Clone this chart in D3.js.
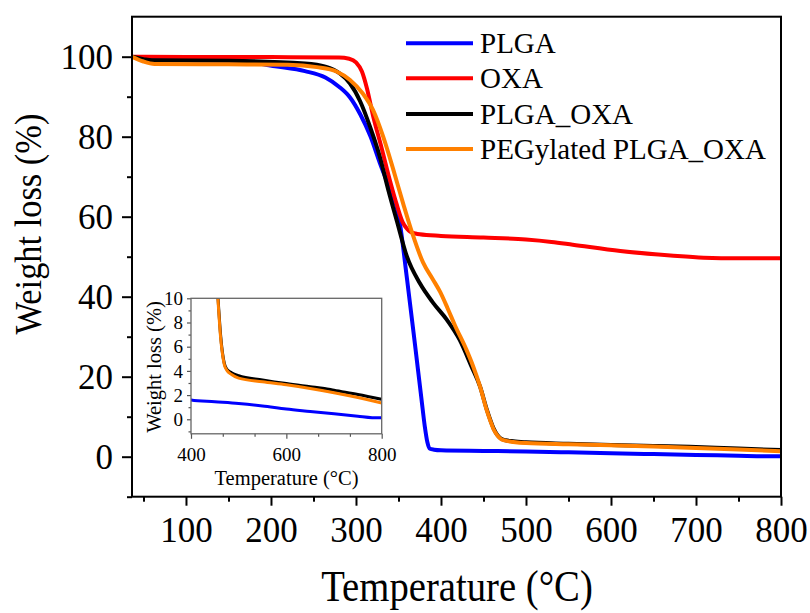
<!DOCTYPE html>
<html>
<head>
<meta charset="utf-8">
<script src="https://cdn.jsdelivr.net/npm/d3@7"></script>
<style>
  html, body { margin: 0; padding: 0; background: #fff; }
  svg { display: block; }
  text { font-family: "Liberation Serif", "Times New Roman", serif; fill: #000; }
</style>
</head>
<body>
<svg id="chart" width="810" height="613"></svg>
<script>
// TGA curves: temperature (°C) vs residual weight (%)
const seriesNames = ["PLGA", "OXA", "PLGA_OXA", "PEGylated PLGA_OXA"];
const seriesColors = ["#0000ff", "#ff0000", "#000000", "#ff8000"];

const tempPLGA = [36.5, 60, 100, 160, 205, 240, 264, 280, 293, 305, 317, 328, 340, 350, 360, 370, 377, 381, 384, 387, 392, 400, 450, 500, 550, 600, 650, 700, 750, 780, 800];
const wPLGA    = [100, 99.4, 99.2, 99.0, 97.6, 96.4, 94.8, 92.5, 89.8, 85.6, 80.1, 73.5, 66.7, 60.5, 44.5, 27, 14.5, 7.5, 3.6, 2.0, 1.75, 1.6, 1.45, 1.3, 1.1, 0.85, 0.65, 0.45, 0.25, 0.13, 0.12];

const tempOXA = [36.5, 100, 200, 280, 292, 300, 307, 313, 320, 330, 340, 348, 355, 360, 364, 370, 375, 400, 450, 500, 530, 555, 611, 670, 709, 750, 800];
const wOXA    = [100, 99.9, 99.9, 99.8, 99.5, 98.6, 96.3, 92, 85.3, 77.3, 69, 63, 58.6, 57, 56.2, 55.8, 55.6, 55.2, 54.8, 54.3, 53.7, 53.0, 51.4, 50.3, 49.75, 49.6, 49.6];

const tempPLGAOXA = [36.5, 50, 60, 150, 240, 264, 281, 293, 305, 316.5, 328, 338, 348, 360, 375, 391, 407, 422, 436, 446, 454, 458, 462, 466, 470, 476, 485, 500, 550, 600, 650, 680, 700, 750, 800];
const wPLGAOXA    = [100, 99.4, 99.1, 99.0, 98.3, 97.5, 95.8, 93.3, 88.8, 82.5, 75, 66.7, 59, 50, 43.4, 38.4, 34.2, 29.2, 22.5, 17.5, 11.7, 9.2, 7.0, 5.5, 4.6, 4.1, 3.85, 3.6, 3.25, 2.95, 2.7, 2.55, 2.4, 2.05, 1.65];

const tempPEG = [36.5, 50, 63, 150, 220, 254, 277, 293, 308, 320, 332, 344, 355.6, 366, 379, 390, 399, 408, 416.5, 430, 438, 446, 454, 458, 462, 466, 470, 476, 485, 500, 550, 600, 650, 700, 750, 800];
const wPEG    = [100, 98.8, 98.2, 98.1, 98.0, 97.4, 96.3, 94.2, 90.8, 86.7, 80, 71.7, 63.2, 56, 48.5, 44.5, 41.2, 37, 32.8, 26.7, 22.5, 17.5, 11.5, 9.0, 6.8, 5.4, 4.5, 4.0, 3.7, 3.4, 3.1, 2.85, 2.55, 2.2, 1.8, 1.35];

const xTicksMain = [100, 200, 300, 400, 500, 600, 700, 800];
const yTicksMain = [0, 20, 40, 60, 80, 100];
const xTicksInset = [400, 600, 800];
const yTicksInset = [0, 2, 4, 6, 8, 10];

const temps = [tempPLGA, tempOXA, tempPLGAOXA, tempPEG];
const weights = [wPLGA, wOXA, wPLGAOXA, wPEG];
const series = seriesNames.map((name, i) => ({
  name, color: seriesColors[i],
  points: temps[i].map((t, j) => [t, weights[i][j]])
}));

const svg = d3.select("#chart");
const font = '"Liberation Serif", "Times New Roman", serif';

// ---------- main panel ----------
const M = { left: 132, right: 781, top: 16.7, bottom: 496.7 };
const x = d3.scaleLinear().domain([36.5, 800]).range([M.left, M.right]);
const y = d3.scaleLinear().domain([-10, 110]).range([M.bottom, M.top]);

svg.append("defs").append("clipPath").attr("id", "clipMain")
  .append("rect").attr("x", M.left).attr("y", M.top)
  .attr("width", M.right - M.left).attr("height", M.bottom - M.top);

const line = d3.line().x(d => x(d[0])).y(d => y(d[1])).curve(d3.curveMonotoneX);

svg.append("g").attr("clip-path", "url(#clipMain)")
  .selectAll("path").data(series).join("path")
  .attr("d", d => line(d.points))
  .attr("fill", "none").attr("stroke", d => d.color)
  .attr("stroke-width", 4).attr("stroke-linejoin", "round").attr("stroke-linecap", "round");

function styleAxis(g, size) {
  g.select(".domain").remove();
  g.selectAll(".tick line").attr("stroke", "#000").attr("stroke-width", 2);
  g.selectAll(".tick text").style("font-family", font).style("font-size", size + "px").attr("fill", "#000");
}

// x axis, major + minor ticks
const gx = svg.append("g").attr("transform", `translate(0,${M.bottom})`)
  .call(d3.axisBottom(x).tickValues(xTicksMain).tickSize(9).tickPadding(11).tickFormat(d3.format("d")));
styleAxis(gx, 35);
const gxm = svg.append("g").attr("transform", `translate(0,${M.bottom})`)
  .call(d3.axisBottom(x).tickValues(d3.range(50, 800, 100)).tickSize(5).tickFormat(""));
styleAxis(gxm, 35);

// y axis, major + minor ticks
const gy = svg.append("g").attr("transform", `translate(${M.left},0)`)
  .call(d3.axisLeft(y).tickValues(yTicksMain).tickSize(10).tickPadding(9).tickFormat(d3.format("d")));
styleAxis(gy, 35);
gy.selectAll(".tick text").attr("dy", "0.33em");
const gym = svg.append("g").attr("transform", `translate(${M.left},0)`)
  .call(d3.axisLeft(y).tickValues(d3.range(-10, 110, 20)).tickSize(5).tickFormat(""));
styleAxis(gym, 35);

// frame
svg.append("rect").attr("x", M.left).attr("y", M.top)
  .attr("width", M.right - M.left).attr("height", M.bottom - M.top)
  .attr("fill", "none").attr("stroke", "#000").attr("stroke-width", 2);

// axis titles
svg.append("text").attr("transform", "translate(457,601) scale(0.86,1)")
  .attr("text-anchor", "middle").style("font-size", "45px").text("Temperature (°C)");
svg.append("text").attr("transform", "translate(41,224) rotate(-90) scale(0.93,1)")
  .attr("text-anchor", "middle").style("font-size", "37px").text("Weight loss (%)");

// legend
const legend = svg.append("g");
const legY = [43.3, 78.3, 114, 149];
series.forEach((s, i) => {
  legend.append("line").attr("x1", 406).attr("x2", 473).attr("y1", legY[i]).attr("y2", legY[i])
    .attr("stroke", s.color).attr("stroke-width", 4);
  legend.append("text").attr("x", 480).attr("y", legY[i] + 10)
    .style("font-size", "29px").text(s.name);
});

// ---------- inset: high-temperature residue ----------
const I = { left: 191, right: 381.7, top: 298.3, bottom: 433.8 };
const xi = d3.scaleLinear().domain([400, 800]).range([I.left, I.right]);
const yi = d3.scaleLinear().domain([-1.2, 10]).range([I.bottom, I.top]);

svg.append("rect").attr("x", I.left).attr("y", I.top)
  .attr("width", I.right - I.left).attr("height", I.bottom - I.top).attr("fill", "#fff");

svg.select("defs").append("clipPath").attr("id", "clipInset")
  .append("rect").attr("x", I.left).attr("y", I.top)
  .attr("width", I.right - I.left).attr("height", I.bottom - I.top);

const lineInset = d3.line().x(d => xi(d[0])).y(d => yi(d[1])).curve(d3.curveMonotoneX);
svg.append("g").attr("clip-path", "url(#clipInset)")
  .selectAll("path").data(series.filter(s => s.name !== "OXA")).join("path")
  .attr("d", d => lineInset(d.points))
  .attr("fill", "none").attr("stroke", d => d.color)
  .attr("stroke-width", 3).attr("stroke-linejoin", "round");

function styleInset(g) {
  g.select(".domain").remove();
  g.selectAll(".tick line").attr("stroke", "#555").attr("stroke-width", 1.2);
  g.selectAll(".tick text").style("font-family", font).style("font-size", "19px").attr("fill", "#000");
}
const gxi = svg.append("g").attr("transform", `translate(0,${I.bottom})`)
  .call(d3.axisBottom(xi).tickValues(xTicksInset).tickSize(5).tickPadding(9).tickFormat(d3.format("d")));
styleInset(gxi);
const gxim = svg.append("g").attr("transform", `translate(0,${I.bottom})`)
  .call(d3.axisBottom(xi).tickValues([466.67, 533.33, 666.67, 733.33]).tickSize(3).tickFormat(""));
styleInset(gxim);
const gyi = svg.append("g").attr("transform", `translate(${I.left},0)`)
  .call(d3.axisLeft(yi).tickValues(yTicksInset).tickSize(4).tickPadding(4).tickFormat(d3.format("d")));
styleInset(gyi);
gyi.selectAll(".tick text").attr("dy", "0.33em");
const gyim = svg.append("g").attr("transform", `translate(${I.left},0)`)
  .call(d3.axisLeft(yi).tickValues([-1, 1, 3, 5, 7, 9]).tickSize(2.5).tickFormat(""));
styleInset(gyim);

svg.append("rect").attr("x", I.left).attr("y", I.top)
  .attr("width", I.right - I.left).attr("height", I.bottom - I.top)
  .attr("fill", "none").attr("stroke", "#666").attr("stroke-width", 1.3);

svg.append("text").attr("x", 286.5).attr("y", 485)
  .attr("text-anchor", "middle").style("font-size", "20.5px").text("Temperature (°C)");
svg.append("text").attr("transform", "translate(161,367) rotate(-90)")
  .attr("text-anchor", "middle").style("font-size", "20.5px").text("Weight loss (%)");
</script>
</body>
</html>
